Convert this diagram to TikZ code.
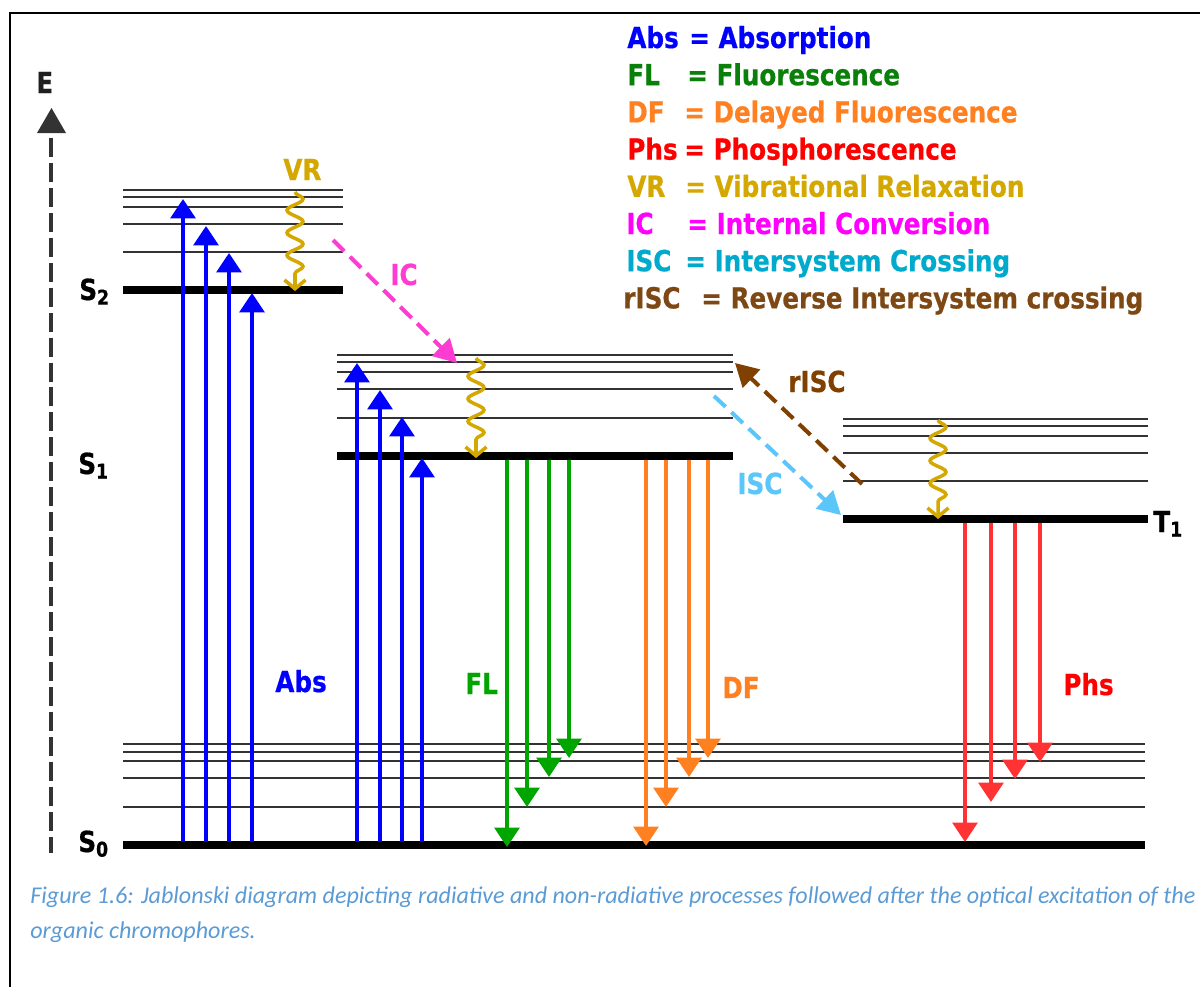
\documentclass[tikz,border=0pt]{standalone}
\usepackage{fontspec}
\newfontfamily\labf{DejaVu Sans}[FakeStretch=0.85, BoldFeatures={FakeBold=0.6}]
\newfontfamily\capf{Carlito}
\usetikzlibrary{arrows.meta,decorations.pathmorphing}
\definecolor{absblue}{RGB}{0,0,255}
\definecolor{flgreen}{RGB}{0,165,0}
\definecolor{flgreenD}{RGB}{10,128,10}
\definecolor{dforange}{RGB}{255,128,32}
\definecolor{phsred}{RGB}{255,51,51}
\definecolor{phsredD}{RGB}{255,0,0}
\definecolor{vrgold}{RGB}{212,168,0}
\definecolor{icpink}{RGB}{255,60,210}
\definecolor{icmag}{RGB}{255,0,255}
\definecolor{isclight}{RGB}{90,198,250}
\definecolor{iscdark}{RGB}{0,170,204}
\definecolor{riscbrown}{RGB}{128,64,0}
\definecolor{riscbrownD}{RGB}{125,72,20}
\definecolor{capblue}{RGB}{91,155,213}
\definecolor{axisgray}{RGB}{51,51,51}
\begin{document}
\begin{tikzpicture}[x=0.02cm,y=-0.02cm,
  lvl/.style={line width=1.2pt, draw=black!80},
  lvlg/.style={line width=4.5pt, draw=black},
  radarrow/.style={line width=2.3pt, -{Triangle[length=11pt,width=14pt]}},
  dasharrow/.style={line width=2.3pt, dash pattern=on 9pt off 4.5pt, -{Triangle[length=13pt,width=14pt]}},
  vrwave/.style={draw=vrgold, line width=2pt, decorate,
    decoration={snake, amplitude=0.16cm, segment length=0.45cm, post length=0.15cm},
    -{Straight Barb[length=5pt,width=12pt]}},
  lab/.style={font=\labf\bfseries\fontsize{16.5}{19}\selectfont, inner sep=0pt, anchor=base west},
  caps/.style={font=\capf\itshape\fontsize{13.7}{16}\selectfont, inner sep=0pt, anchor=base west, text=capblue}]
\useasboundingbox (0,0) rectangle (1200,987);

% frame
\draw[line width=1.2pt] (10,995) -- (10,13) -- (1205,13);

% energy axis
\coordinate (ebot) at (51,853);
\coordinate (etop) at (51,138);
\coordinate (etip) at (51.5,108);
\draw[axisgray, line width=2.3pt, dash pattern=on 10.8pt off 3.4pt] (etop) -- (ebot);
\fill[axisgray] (37,133) -- (etip) -- (66,133) -- cycle;
\node[lab, text=black!88] (E) at (36,93) {E};

% levels
\foreach \y in {190,197,207,224,252} \draw[lvl] (123,\y) -- (343,\y);
\draw[lvlg] (123,290) -- (343,290);
\foreach \y in {355,362,372,389,418} \draw[lvl] (337,\y) -- (733,\y);
\draw[lvlg] (337,456) -- (733,456);
\foreach \y in {419,426,436,453,481} \draw[lvl] (843,\y) -- (1148,\y);
\draw[lvlg] (843,519) -- (1148,519);
\foreach \y in {744,752,761,778,807} \draw[lvl] (123,\y) -- (1145,\y);
\draw[lvlg] (123,845) -- (1145,845);

% state labels
\node[lab] (S2) at (79,300) {S\textsubscript{2}};
\node[lab] (S1) at (78,474) {S\textsubscript{1}};
\node[lab] (S0) at (78,852) {S\textsubscript{0}};
\node[lab] (T1) at (1153,532) {T\textsubscript{1}};

% absorption
\foreach \x/\t [count=\i] in {183/199,206/226,229/253,252/293,357/363,380/390,402/417,422/458} {
  \coordinate (abs\i-a) at (\x,842);
  \coordinate (abs\i-b) at (\x,\t);
  \draw[radarrow, absblue] (abs\i-a) -- (abs\i-b);
}
% fluorescence
\foreach \x/\t [count=\i] in {507/847,527/807,549/777,569/758} {
  \coordinate (fl\i-a) at (\x,460);
  \coordinate (fl\i-b) at (\x,\t);
  \draw[radarrow, flgreen] (fl\i-a) -- (fl\i-b);
}
% delayed fluorescence
\foreach \x/\t [count=\i] in {646/846,666/807,689/777,708/758} {
  \coordinate (df\i-a) at (\x,460);
  \coordinate (df\i-b) at (\x,\t);
  \draw[radarrow, dforange] (df\i-a) -- (df\i-b);
}
% phosphorescence
\foreach \x/\t [count=\i] in {965/842,991/802,1015/779,1040/762} {
  \coordinate (ph\i-a) at (\x,523);
  \coordinate (ph\i-b) at (\x,\t);
  \draw[radarrow, phsred] (ph\i-a) -- (ph\i-b);
}

% vibrational relaxation
\coordinate (vr2a) at (295,192); \coordinate (vr2b) at (295,291);
\coordinate (vr1a) at (476,358); \coordinate (vr1b) at (476,458);
\coordinate (vrta) at (938,420); \coordinate (vrtb) at (938,519);
\draw[vrwave] (vr2a) -- (vr2b);
\draw[vrwave] (vr1a) -- (vr1b);
\draw[vrwave] (vrta) -- (vrtb);

% IC, ISC, rISC
\coordinate (ica) at (333,240); \coordinate (icb) at (457,363);
\draw[dasharrow, icpink] (ica) -- (icb);
\coordinate (isca) at (714,396); \coordinate (iscb) at (841,515);
\draw[dasharrow, isclight] (isca) -- (iscb);
\coordinate (risca) at (862,484); \coordinate (riscb) at (735,363);
\draw[dasharrow, riscbrown] (risca) -- (riscb);

% process labels
\node[lab, text=vrgold] (lVR) at (283,180) {VR};
\node[lab, text=icpink] (lIC) at (390,285) {IC};
\node[lab, text=riscbrown] (lrISC) at (788,392) {rISC};
\node[lab, text=isclight] (lISC) at (737,494) {ISC};
\node[lab, text=absblue] (lAbs) at (275,692) {Abs};
\node[lab, text=flgreen] (lFL) at (465,694) {FL};
\node[lab, text=dforange] (lDF) at (722,698) {DF};
\node[lab, text=phsredD] (lPhs) at (1063,695) {Phs};

% legend
\foreach \ab/\ax/\ex/\df/\col [count=\i] in {
  Abs/627/689/Absorption/absblue,
  FL/627/687/Fluorescence/flgreenD,
  DF/627/684/Delayed Fluorescence/dforange,
  Phs/627/684/Phosphorescence/phsredD,
  VR/627/685/Vibrational Relaxation/vrgold,
  IC/626/687/Internal Conversion/icmag,
  ISC/626/685/Intersystem Crossing/iscdark,
  rISC/623/701/Reverse Intersystem crossing/riscbrownD} {
  \node[lab, text=\col] (leg\i a) at (\ax,{48+37.2*(\i-1)}) {\ab};
  \node[lab, text=\col] (leg\i b) at (\ex,{48+37.2*(\i-1)}) {= \df};
}

% caption
\node[caps] (cap1) at (30,903) {Figure 1.6: Jablonski diagram depicting radiative and non-radiative processes followed after the optical excitation of the};
\node[caps] (cap2) at (30,938) {organic chromophores.};
\end{tikzpicture}
\end{document}
